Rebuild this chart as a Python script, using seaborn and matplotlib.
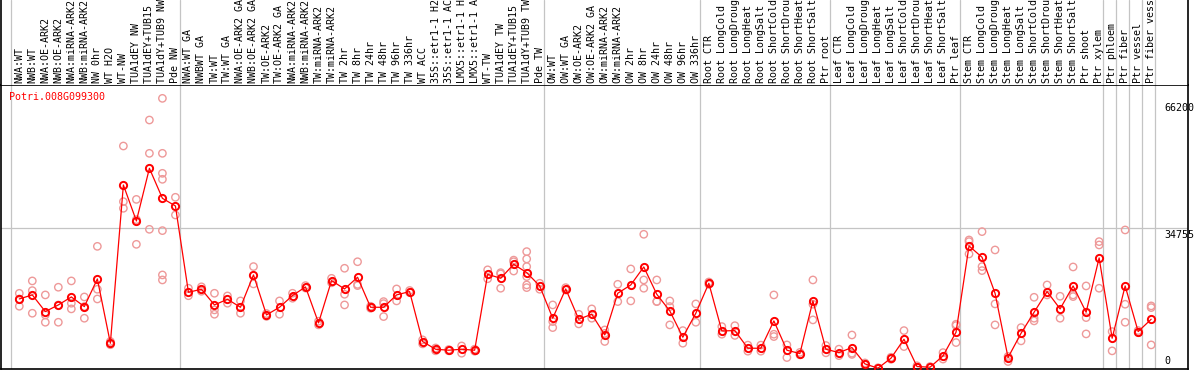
import numpy as np
import pandas as pd
import seaborn as sns
import matplotlib
matplotlib.use("Agg")
import matplotlib.pyplot as plt

gene = "Potri.008G099300"

labels = [
    "NWA:WT", "NWB:WT", "NWA:OE-ARK2", "NWB:OE-ARK2", "NWA:miRNA-ARK2",
    "NWB:miRNA-ARK2", "NW 0hr", "WT H2O", "WT-NW", "TUA1dEY NW",
    "TUA1dEY+TUB15 NW", "TUA1dY+TUB9 NW", "Pde NW",
    "NWA:WT GA", "NWBWT GA", "TW:WT", "TW:WT GA", "NWA:OE-ARK2 GA",
    "NWB:OE-ARK2 GA", "TW:OE-ARK2", "TW:OE-ARK2 GA", "NWA:miRNA-ARK2",
    "NWB:miRNA-ARK2", "TW:miRNA-ARK2", "TW:miRNA-ARK2", "TW 2hr", "TW 8hr",
    "TW 24hr", "TW 48hr", "TW 96hr", "TW 336hr", "WT ACC", "35S::etr1-1 H2O",
    "35S::etr1-1 ACC", "LMX5::etr1-1 H2O", "LMX5::etr1-1 ACC", "WT-TW",
    "TUA1dEY TW", "TUA1dEY+TUB15 TW", "TUA1dY+TUB9 TW", "Pde TW",
    "OW:WT", "OW:WT GA", "OW:OE-ARK2", "OW:OE-ARK2 GA", "OW:miRNA-ARK2",
    "OW:miRNA-ARK2", "OW 2hr", "OW 8hr", "OW 24hr", "OW 48hr", "OW 96hr",
    "OW 336hr",
    "Root CTR", "Root LongCold", "Root LongDrought", "Root LongHeat",
    "Root LongSalt", "Root ShortCold", "Root ShortDrought", "Root ShortHeat",
    "Root ShortSalt", "Ptr root",
    "Leaf CTR", "Leaf LongCold", "Leaf LongDrought", "Leaf LongHeat",
    "Leaf LongSalt", "Leaf ShortCold", "Leaf ShortDrought", "Leaf ShortHeat",
    "Leaf ShortSalt", "Ptr leaf",
    "Stem CTR", "Stem LongCold", "Stem LongDrought", "Stem LongHeat",
    "Stem LongSalt", "Stem ShortCold", "Stem ShortDrought", "Stem ShortHeat",
    "Stem ShortSalt", "Ptr shoot", "Ptr xylem",
    "Ptr phloem", "Ptr fiber", "Ptr vessel", "Ptr fiber vessel",
]
group_sizes = [13, 28, 12, 10, 10, 11, 1, 1, 1, 1]

means = [
    17310, 18300, 14185, 15830, 17800, 15420, 22250, 6370, 45460, 36570,
    49575, 42170, 40275, 18960,
    19700, 15830, 17230, 15250, 23240, 13360, 15250, 18140, 20280, 11390,
    21840, 19780, 22660, 15250, 15250, 18300, 19125, 6780, 4880, 4640,
    4880, 4640, 23400, 22415, 25870, 23810, 20520, 12540, 19780, 12290,
    13525, 8425, 18710, 20770, 25210, 18460, 14350, 7850, 13775, 21180,
    9400, 9490, 5130, 5130, 11880, 4640, 3820, 16820, 4880, 4060,
    5300, 1260, 200, 2665, 7350, 610, 440, 3240, 9080, 30400,
    27600, 18710, 2830, 8840, 14020, 19125, 14850, 20520, 14020, 27440,
    7600, 20520, 9250, 12290,
]

replicates = [
    [18700, 17300, 15500], [21760, 19370, 13775], [18300, 13360, 11550],
    [20200, 15800, 11550], [21760, 16250, 14850], [17800, 15420, 12540],
    [30300, 19700, 17300], [6800, 6000, 6300], [55090, 41345, 39700],
    [41900, 36900, 30800], [61510, 53280, 34510],
    [66860, 53280, 48340, 46860, 34185, 23240, 22000],
    [42420, 38050], [19950, 18100],
    [20300, 19200], [18710, 14600, 13525], [18050, 16250], [16820, 13775],
    [25300, 21020], [13700, 13000], [16820, 13525], [18710, 17480],
    [20600, 20000], [11800, 10900], [22400, 21300], [24885, 18460, 15830],
    [26500, 20900, 20600], [15500, 15000], [16650, 12950, 16150],
    [19780, 16820], [19400, 18900], [7200, 6200], [5200, 4500], [4800, 4500],
    [5700, 3900], [4900, 4400], [24500, 22300], [23800, 23500, 19950],
    [26900, 26500, 24200], [29000, 27190, 25300, 22830, 20770, 20110],
    [21180, 19700],
    [15830, 11720, 10230], [20100, 19500], [13525, 11140], [14850, 12540],
    [9650, 8800, 6800], [20930, 16655], [24720, 16820], [33280, 22000, 19950],
    [22000, 16700, 16650], [16820, 15420, 10895], [9490, 6370], [16080, 11550],
    [21500, 20900], [10480, 8590], [10700, 8300], [5900, 4400], [5900, 4400],
    [18300, 8590, 8015], [5955, 2830], [4100, 3500], [22000, 16000, 12130],
    [5800, 4000], [4900, 3300],
    [8400, 3900, 3600], [1500, 1000], [300, 100], [2900, 2400], [9490, 5545],
    [800, 400], [600, 300], [4050, 2450], [11060, 10730, 6530],
    [31880, 31470, 28420],
    [33940, 25300, 24310], [29410, 16080, 10895], [3100, 1850], [10230, 6945],
    [17720, 12540, 11880], [20770, 18300], [17970, 12540],
    [25210, 18300, 17890], [20520, 12700, 8670], [31470, 30640, 19950],
    [9250, 4480], [34350, 16000, 11550], [9500, 9000], [15590, 15170, 5955],
]

y_ticks = [66200, 34755, 0]
grid_value = 34755

sns.set_style("white")
plt.rcParams["font.family"] = ["DejaVu Sans Mono"]

pos = np.arange(len(labels))
rep_df = pd.DataFrame({
    "pos": np.repeat(pos, [len(r) for r in replicates]),
    "value": np.concatenate(replicates),
})
mean_df = pd.DataFrame({"pos": pos, "value": means})

W, H = 1194, 370
fig = plt.figure(figsize=(W / 100, H / 100), dpi=100)
left_px, right_px, top_px, bottom_px = 1, 1188, 85, 369
ax = fig.add_axes([left_px / W, (H - bottom_px) / H,
                   (right_px - left_px) / W, (bottom_px - top_px) / H])
hax = fig.add_axes([left_px / W, (H - top_px) / H,
                    (right_px - left_px) / W, top_px / H])

step, first = 13.01, 19.3
xlim = ((left_px - first) / step, (right_px - first) / step)
boundaries = np.cumsum([0] + group_sizes) - 0.67

grey = "#c4c4c4"
for a in (ax, hax):
    for b in boundaries:
        a.axvline(b, color=grey, lw=0.9, zorder=0)
    a.set_xlim(*xlim)
    a.set_xticks([])
    a.set_yticks([])
ax.axhline(grid_value, color=grey, lw=0.9, zorder=0)

sns.scatterplot(data=rep_df, x="pos", y="value", ax=ax, marker="o", s=28,
                facecolor="none", edgecolor="#ee9999", linewidth=1.0, zorder=2)
sns.lineplot(data=mean_df, x="pos", y="value", ax=ax, color="red", lw=0.9,
             marker="o", markersize=5.2, markerfacecolor="none",
             markeredgecolor="red", markeredgewidth=1.4, errorbar=None, zorder=3)

ax.set_ylim(0, 70160)
ax.set_xlabel("")
ax.set_ylabel("")
for s in ax.spines.values():
    s.set_visible(True)
    s.set_color("black")
    s.set_linewidth(1.2)

hax.set_ylim(0, top_px)
for name, s in hax.spines.items():
    s.set_visible(name in ("left", "right"))
    s.set_color("black")
    s.set_linewidth(1.2)

for i, lab in enumerate(labels):
    hax.text(i, 1.7, lab, rotation=90, ha="center", va="bottom",
             fontsize=7.2, color="black")

ax.text(0.007, 0.958, gene, transform=ax.transAxes, color="red",
        ha="left", va="center", fontsize=7.2)

for v in y_ticks:
    ax.annotate(f"{v}", xy=(0.98, v), xycoords=ax.get_yaxis_transform(),
                xytext=(0, -2 if v else 3), textcoords="offset pixels",
                ha="left", va="top" if v else "bottom", fontsize=7.2,
                color="black")

fig.savefig("out.png", dpi=100)
